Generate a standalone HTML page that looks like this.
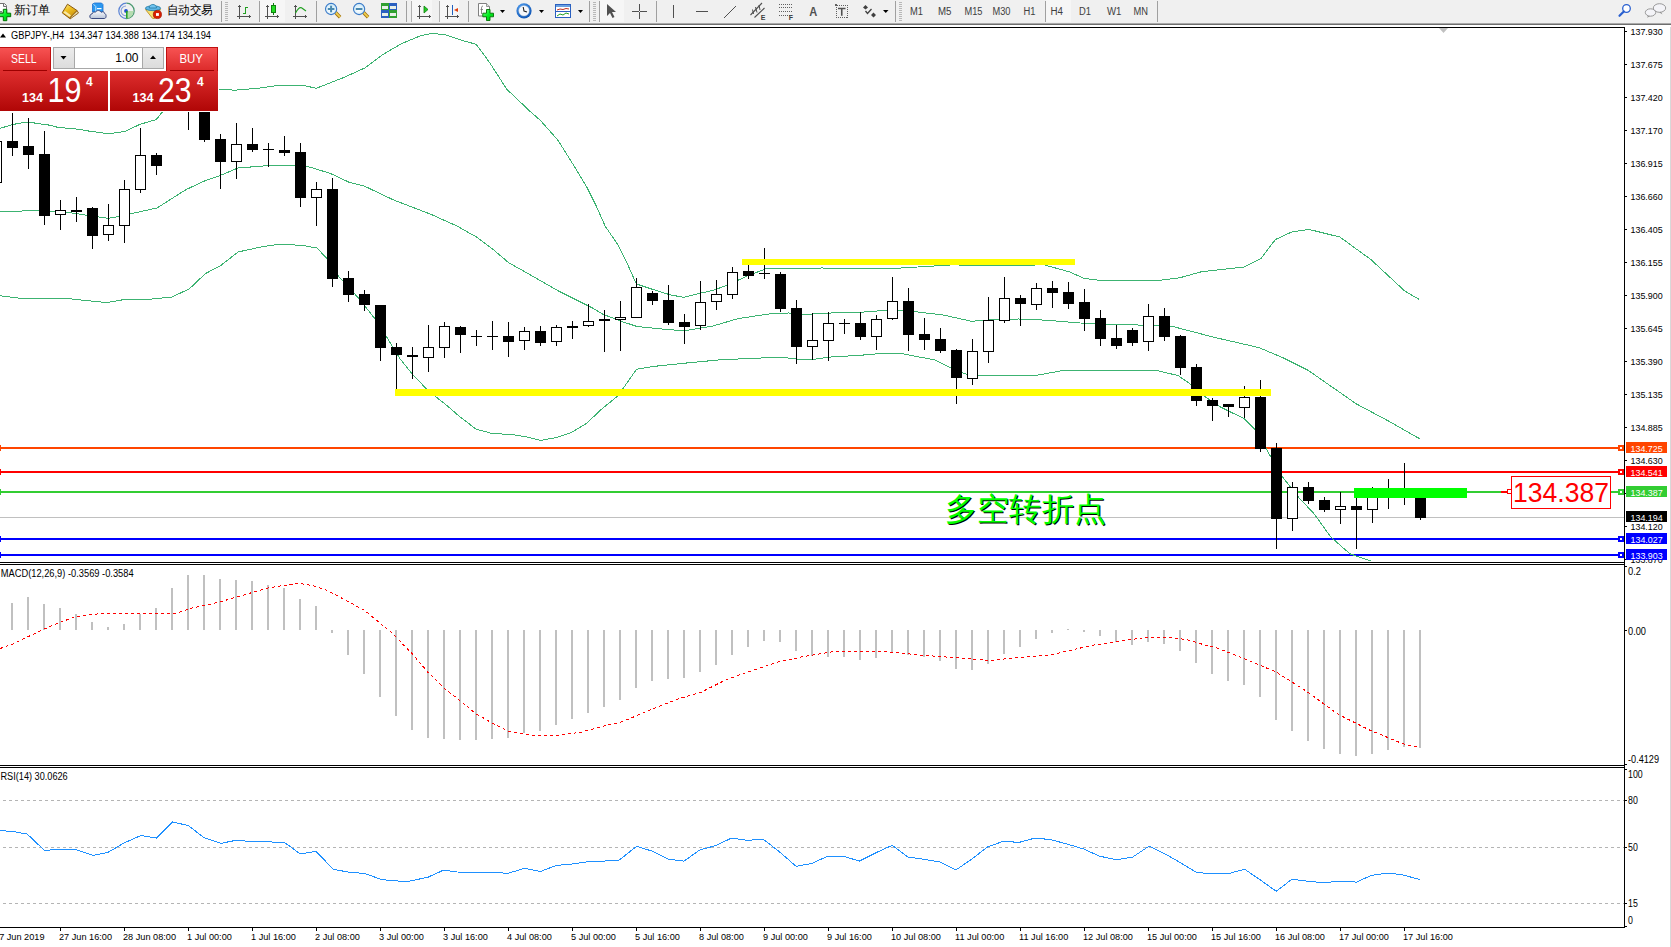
<!DOCTYPE html>
<html><head><meta charset="utf-8"><style>
html,body{margin:0;padding:0;width:1671px;height:947px;overflow:hidden;background:#fff;}
body{position:relative;font-family:"Liberation Sans", sans-serif;}
svg{position:absolute;left:0;top:0;}
text{font-family:"Liberation Sans", sans-serif;}
</style></head><body>
<svg width="1671" height="947" viewBox="0 0 1671 947">
<rect x="0" y="0" width="1671" height="947" fill="#ffffff"/>

<g shape-rendering="crispEdges">
<rect x="0" y="447" width="1624" height="2" fill="#ff4500"/>
<rect x="0" y="471" width="1624" height="2" fill="#ff0000"/>
<rect x="0" y="491" width="1624" height="2" fill="#32cd32"/>
<rect x="0" y="517" width="1624" height="1" fill="#c0c0c0"/>
<rect x="0" y="538" width="1624" height="2" fill="#0000ff"/>
<rect x="0" y="554" width="1624" height="2" fill="#0000ff"/>
</g>
<g stroke="#3cb371" stroke-width="1" fill="none" shape-rendering="crispEdges">
<polyline points="0.0,128.4 12.6,124.5 25.0,122.4 32.0,122.6 40.8,124.0 50.0,125.2 57.9,127.4 68.7,128.3 78.7,129.3 90.2,131.3 105.3,133.3 111.8,133.3 125.4,131.3 139.8,124.4 156.3,119.5 161.3,113.2 170.0,108.0 195.0,96.0 219.6,89.3 234.9,90.2 257.9,88.3 280.9,85.1 301.9,85.1 316.3,88.3 344.0,77.4 365.1,67.8 382.3,54.8 401.5,43.7 420.6,35.7 432.1,33.4 445.5,34.7 459.0,39.5 476.2,44.3 489.6,62.5 506.8,89.3 530.0,111.3 540.0,120.0 557.7,139.9 571.0,161.0 586.5,186.5 595.4,204.2 605.3,226.4 617.5,244.1 626.4,261.8 636.4,284.0 653.0,289.5 670.7,295.0 684.0,297.3 700.0,293.3 714.6,289.9 728.0,284.8 748.4,275.5 765.3,269.0 789.0,268.4 822.8,268.0 853.0,268.7 883.8,269.0 917.6,267.0 951.4,264.9 993.7,265.5 1044.4,264.9 1069.7,272.0 1084.0,278.3 1098.3,280.2 1139.0,280.2 1160.5,280.2 1179.7,277.8 1201.2,271.8 1244.3,267.0 1261.0,258.6 1275.4,239.5 1292.2,231.8 1309.0,229.4 1340.0,237.1 1371.2,259.8 1404.7,291.0 1419.0,299.3" fill="none" />
<polyline points="0.0,211.5 37.0,210.7 71.0,212.9 108.0,218.3 118.0,216.6 132.0,213.5 157.0,208.0 186.0,189.6 206.0,180.3 219.0,176.0 238.0,168.0 276.0,165.0 295.0,165.6 308.0,166.6 330.0,173.3 349.0,182.2 364.2,186.0 393.4,199.9 431.4,214.5 456.7,225.9 477.0,237.3 492.2,248.7 508.7,262.7 530.0,274.7 557.7,290.6 593.2,308.4 602.8,314.1 619.7,320.8 637.0,326.5 662.0,329.0 684.0,330.8 713.0,326.0 738.0,318.6 772.0,313.5 789.0,313.0 806.0,314.4 831.0,313.0 860.0,312.3 883.8,310.5 900.7,310.5 917.6,312.0 943.0,315.0 971.7,321.3 993.7,319.6 1019.0,319.0 1044.4,320.1 1086.6,323.5 1147.6,325.3 1174.6,327.0 1215.0,337.5 1259.0,347.6 1282.8,357.7 1307.6,370.0 1356.2,403.8 1387.9,420.7 1419.6,438.7" fill="none" />
<polyline points="0.0,295.7 20.7,298.3 68.0,298.6 88.7,300.8 106.4,302.6 122.7,299.8 147.8,299.4 171.5,297.1 189.2,289.0 205.5,273.5 220.0,266.1 238.0,252.0 263.0,246.5 282.0,244.0 304.6,245.8 317.0,248.0 326.8,258.5 339.5,277.5 358.5,298.0 377.5,322.0 400.0,358.7 412.4,374.2 426.5,389.0 435.8,396.8 446.7,405.3 459.1,416.2 476.2,429.2 491.8,433.4 512.0,434.6 524.5,436.5 540.8,440.4 555.6,437.7 571.2,432.6 586.7,423.2 602.3,408.5 617.8,396.0 636.5,369.3 653.8,366.4 687.6,362.9 721.4,359.7 755.0,358.3 780.6,357.1 797.5,359.2 814.4,359.2 831.0,357.0 860.0,355.3 875.4,354.0 900.7,353.4 934.5,359.9 951.4,368.3 968.3,375.0 1036.0,375.4 1061.3,370.8 1093.5,370.4 1156.0,370.4 1178.0,375.5 1191.5,384.8 1205.0,396.6 1220.0,406.8 1244.0,418.6 1255.8,430.4 1270.6,456.6 1282.3,476.7 1299.0,497.8 1314.0,513.7 1330.8,537.0 1349.9,553.8 1371.0,561.0" fill="none" />
</g>
<g shape-rendering="crispEdges">
<rect x="-4" y="120" width="1" height="70" fill="#000"/>
<rect x="-9" y="141" width="11" height="42" fill="#000"/>
<rect x="-8" y="142" width="9" height="40" fill="#fff"/>
<rect x="12" y="113" width="1" height="43" fill="#000"/>
<rect x="7" y="141" width="11" height="7" fill="#000"/>
<rect x="28" y="118" width="1" height="51" fill="#000"/>
<rect x="23" y="146" width="11" height="9" fill="#000"/>
<rect x="44" y="131" width="1" height="94" fill="#000"/>
<rect x="39" y="154" width="11" height="62" fill="#000"/>
<rect x="60" y="200" width="1" height="30" fill="#000"/>
<rect x="55" y="210" width="11" height="5" fill="#000"/>
<rect x="56" y="211" width="9" height="3" fill="#fff"/>
<rect x="76" y="197" width="1" height="25" fill="#000"/>
<rect x="71" y="210" width="11" height="2" fill="#000"/>
<rect x="92" y="207" width="1" height="42" fill="#000"/>
<rect x="87" y="208" width="11" height="28" fill="#000"/>
<rect x="108" y="204" width="1" height="37" fill="#000"/>
<rect x="103" y="225" width="11" height="10" fill="#000"/>
<rect x="104" y="226" width="9" height="8" fill="#fff"/>
<rect x="124" y="180" width="1" height="63" fill="#000"/>
<rect x="119" y="189" width="11" height="37" fill="#000"/>
<rect x="120" y="190" width="9" height="35" fill="#fff"/>
<rect x="140" y="128" width="1" height="65" fill="#000"/>
<rect x="135" y="155" width="11" height="35" fill="#000"/>
<rect x="136" y="156" width="9" height="33" fill="#fff"/>
<rect x="156" y="153" width="1" height="22" fill="#000"/>
<rect x="151" y="155" width="11" height="11" fill="#000"/>
<rect x="172" y="60" width="1" height="48" fill="#000"/>
<rect x="167" y="80" width="11" height="20" fill="#000"/>
<rect x="188" y="60" width="1" height="70" fill="#000"/>
<rect x="183" y="80" width="11" height="20" fill="#000"/>
<rect x="184" y="81" width="9" height="18" fill="#fff"/>
<rect x="204" y="90" width="1" height="52" fill="#000"/>
<rect x="199" y="100" width="11" height="40" fill="#000"/>
<rect x="220" y="134" width="1" height="55" fill="#000"/>
<rect x="215" y="139" width="11" height="23" fill="#000"/>
<rect x="236" y="123" width="1" height="56" fill="#000"/>
<rect x="231" y="144" width="11" height="18" fill="#000"/>
<rect x="232" y="145" width="9" height="16" fill="#fff"/>
<rect x="252" y="128" width="1" height="24" fill="#000"/>
<rect x="247" y="144" width="11" height="6" fill="#000"/>
<rect x="268" y="143" width="1" height="24" fill="#000"/>
<rect x="263" y="149" width="11" height="1" fill="#000"/>
<rect x="284" y="136" width="1" height="20" fill="#000"/>
<rect x="279" y="150" width="11" height="3" fill="#000"/>
<rect x="300" y="143" width="1" height="64" fill="#000"/>
<rect x="295" y="152" width="11" height="46" fill="#000"/>
<rect x="316" y="182" width="1" height="44" fill="#000"/>
<rect x="311" y="189" width="11" height="9" fill="#000"/>
<rect x="312" y="190" width="9" height="7" fill="#fff"/>
<rect x="332" y="178" width="1" height="109" fill="#000"/>
<rect x="327" y="189" width="11" height="90" fill="#000"/>
<rect x="348" y="271" width="1" height="31" fill="#000"/>
<rect x="343" y="278" width="11" height="17" fill="#000"/>
<rect x="364" y="290" width="1" height="21" fill="#000"/>
<rect x="359" y="294" width="11" height="11" fill="#000"/>
<rect x="380" y="305" width="1" height="56" fill="#000"/>
<rect x="375" y="305" width="11" height="43" fill="#000"/>
<rect x="396" y="343" width="1" height="46" fill="#000"/>
<rect x="391" y="347" width="11" height="8" fill="#000"/>
<rect x="412" y="347" width="1" height="32" fill="#000"/>
<rect x="407" y="355" width="11" height="2" fill="#000"/>
<rect x="428" y="325" width="1" height="47" fill="#000"/>
<rect x="423" y="347" width="11" height="11" fill="#000"/>
<rect x="424" y="348" width="9" height="9" fill="#fff"/>
<rect x="444" y="322" width="1" height="36" fill="#000"/>
<rect x="439" y="326" width="11" height="22" fill="#000"/>
<rect x="440" y="327" width="9" height="20" fill="#fff"/>
<rect x="460" y="326" width="1" height="27" fill="#000"/>
<rect x="455" y="327" width="11" height="8" fill="#000"/>
<rect x="476" y="330" width="1" height="16" fill="#000"/>
<rect x="471" y="336" width="11" height="1" fill="#000"/>
<rect x="492" y="321" width="1" height="29" fill="#000"/>
<rect x="487" y="336" width="11" height="1" fill="#000"/>
<rect x="508" y="322" width="1" height="35" fill="#000"/>
<rect x="503" y="336" width="11" height="6" fill="#000"/>
<rect x="524" y="327" width="1" height="23" fill="#000"/>
<rect x="519" y="331" width="11" height="10" fill="#000"/>
<rect x="520" y="332" width="9" height="8" fill="#fff"/>
<rect x="540" y="326" width="1" height="20" fill="#000"/>
<rect x="535" y="331" width="11" height="12" fill="#000"/>
<rect x="556" y="325" width="1" height="21" fill="#000"/>
<rect x="551" y="327" width="11" height="15" fill="#000"/>
<rect x="552" y="328" width="9" height="13" fill="#fff"/>
<rect x="572" y="321" width="1" height="18" fill="#000"/>
<rect x="567" y="326" width="11" height="2" fill="#000"/>
<rect x="588" y="304" width="1" height="23" fill="#000"/>
<rect x="583" y="321" width="11" height="5" fill="#000"/>
<rect x="584" y="322" width="9" height="3" fill="#fff"/>
<rect x="604" y="310" width="1" height="42" fill="#000"/>
<rect x="599" y="319" width="11" height="2" fill="#000"/>
<rect x="620" y="301" width="1" height="50" fill="#000"/>
<rect x="615" y="317" width="11" height="3" fill="#000"/>
<rect x="616" y="318" width="9" height="1" fill="#fff"/>
<rect x="636" y="278" width="1" height="40" fill="#000"/>
<rect x="631" y="287" width="11" height="31" fill="#000"/>
<rect x="632" y="288" width="9" height="29" fill="#fff"/>
<rect x="652" y="291" width="1" height="14" fill="#000"/>
<rect x="647" y="293" width="11" height="8" fill="#000"/>
<rect x="668" y="285" width="1" height="40" fill="#000"/>
<rect x="663" y="300" width="11" height="23" fill="#000"/>
<rect x="684" y="314" width="1" height="30" fill="#000"/>
<rect x="679" y="322" width="11" height="5" fill="#000"/>
<rect x="700" y="281" width="1" height="49" fill="#000"/>
<rect x="695" y="302" width="11" height="24" fill="#000"/>
<rect x="696" y="303" width="9" height="22" fill="#fff"/>
<rect x="716" y="280" width="1" height="30" fill="#000"/>
<rect x="711" y="294" width="11" height="8" fill="#000"/>
<rect x="712" y="295" width="9" height="6" fill="#fff"/>
<rect x="732" y="267" width="1" height="32" fill="#000"/>
<rect x="727" y="272" width="11" height="23" fill="#000"/>
<rect x="728" y="273" width="9" height="21" fill="#fff"/>
<rect x="748" y="265" width="1" height="14" fill="#000"/>
<rect x="743" y="271" width="11" height="5" fill="#000"/>
<rect x="764" y="248" width="1" height="31" fill="#000"/>
<rect x="759" y="273" width="11" height="1" fill="#000"/>
<rect x="780" y="272" width="1" height="40" fill="#000"/>
<rect x="775" y="274" width="11" height="35" fill="#000"/>
<rect x="796" y="300" width="1" height="64" fill="#000"/>
<rect x="791" y="308" width="11" height="39" fill="#000"/>
<rect x="812" y="313" width="1" height="47" fill="#000"/>
<rect x="807" y="340" width="11" height="7" fill="#000"/>
<rect x="808" y="341" width="9" height="5" fill="#fff"/>
<rect x="828" y="312" width="1" height="49" fill="#000"/>
<rect x="823" y="323" width="11" height="18" fill="#000"/>
<rect x="824" y="324" width="9" height="16" fill="#fff"/>
<rect x="844" y="319" width="1" height="15" fill="#000"/>
<rect x="839" y="323" width="11" height="1" fill="#000"/>
<rect x="860" y="312" width="1" height="28" fill="#000"/>
<rect x="855" y="323" width="11" height="14" fill="#000"/>
<rect x="876" y="315" width="1" height="35" fill="#000"/>
<rect x="871" y="319" width="11" height="18" fill="#000"/>
<rect x="872" y="320" width="9" height="16" fill="#fff"/>
<rect x="892" y="277" width="1" height="43" fill="#000"/>
<rect x="887" y="301" width="11" height="18" fill="#000"/>
<rect x="888" y="302" width="9" height="16" fill="#fff"/>
<rect x="908" y="288" width="1" height="63" fill="#000"/>
<rect x="903" y="301" width="11" height="34" fill="#000"/>
<rect x="924" y="318" width="1" height="32" fill="#000"/>
<rect x="919" y="334" width="11" height="6" fill="#000"/>
<rect x="940" y="328" width="1" height="25" fill="#000"/>
<rect x="935" y="339" width="11" height="12" fill="#000"/>
<rect x="956" y="349" width="1" height="55" fill="#000"/>
<rect x="951" y="350" width="11" height="28" fill="#000"/>
<rect x="972" y="339" width="1" height="46" fill="#000"/>
<rect x="967" y="351" width="11" height="28" fill="#000"/>
<rect x="968" y="352" width="9" height="26" fill="#fff"/>
<rect x="988" y="297" width="1" height="66" fill="#000"/>
<rect x="983" y="320" width="11" height="32" fill="#000"/>
<rect x="984" y="321" width="9" height="30" fill="#fff"/>
<rect x="1004" y="277" width="1" height="46" fill="#000"/>
<rect x="999" y="298" width="11" height="23" fill="#000"/>
<rect x="1000" y="299" width="9" height="21" fill="#fff"/>
<rect x="1020" y="295" width="1" height="31" fill="#000"/>
<rect x="1015" y="298" width="11" height="6" fill="#000"/>
<rect x="1036" y="283" width="1" height="27" fill="#000"/>
<rect x="1031" y="288" width="11" height="17" fill="#000"/>
<rect x="1032" y="289" width="9" height="15" fill="#fff"/>
<rect x="1052" y="281" width="1" height="27" fill="#000"/>
<rect x="1047" y="288" width="11" height="5" fill="#000"/>
<rect x="1068" y="282" width="1" height="27" fill="#000"/>
<rect x="1063" y="292" width="11" height="12" fill="#000"/>
<rect x="1084" y="289" width="1" height="42" fill="#000"/>
<rect x="1079" y="302" width="11" height="17" fill="#000"/>
<rect x="1100" y="310" width="1" height="36" fill="#000"/>
<rect x="1095" y="318" width="11" height="21" fill="#000"/>
<rect x="1116" y="325" width="1" height="24" fill="#000"/>
<rect x="1111" y="338" width="11" height="8" fill="#000"/>
<rect x="1132" y="328" width="1" height="18" fill="#000"/>
<rect x="1127" y="330" width="11" height="13" fill="#000"/>
<rect x="1148" y="304" width="1" height="47" fill="#000"/>
<rect x="1143" y="316" width="11" height="26" fill="#000"/>
<rect x="1144" y="317" width="9" height="24" fill="#fff"/>
<rect x="1164" y="308" width="1" height="33" fill="#000"/>
<rect x="1159" y="316" width="11" height="21" fill="#000"/>
<rect x="1180" y="335" width="1" height="40" fill="#000"/>
<rect x="1175" y="336" width="11" height="32" fill="#000"/>
<rect x="1196" y="364" width="1" height="42" fill="#000"/>
<rect x="1191" y="367" width="11" height="34" fill="#000"/>
<rect x="1212" y="398" width="1" height="23" fill="#000"/>
<rect x="1207" y="400" width="11" height="6" fill="#000"/>
<rect x="1228" y="404" width="1" height="13" fill="#000"/>
<rect x="1223" y="404" width="11" height="3" fill="#000"/>
<rect x="1244" y="386" width="1" height="32" fill="#000"/>
<rect x="1239" y="397" width="11" height="11" fill="#000"/>
<rect x="1240" y="398" width="9" height="9" fill="#fff"/>
<rect x="1260" y="380" width="1" height="72" fill="#000"/>
<rect x="1255" y="397" width="11" height="52" fill="#000"/>
<rect x="1276" y="443" width="1" height="106" fill="#000"/>
<rect x="1271" y="448" width="11" height="71" fill="#000"/>
<rect x="1292" y="482" width="1" height="49" fill="#000"/>
<rect x="1287" y="487" width="11" height="32" fill="#000"/>
<rect x="1288" y="488" width="9" height="30" fill="#fff"/>
<rect x="1308" y="482" width="1" height="22" fill="#000"/>
<rect x="1303" y="487" width="11" height="14" fill="#000"/>
<rect x="1324" y="497" width="1" height="15" fill="#000"/>
<rect x="1319" y="500" width="11" height="10" fill="#000"/>
<rect x="1340" y="492" width="1" height="32" fill="#000"/>
<rect x="1335" y="506" width="11" height="4" fill="#000"/>
<rect x="1336" y="507" width="9" height="2" fill="#fff"/>
<rect x="1356" y="490" width="1" height="59" fill="#000"/>
<rect x="1351" y="506" width="11" height="4" fill="#000"/>
<rect x="1372" y="487" width="1" height="36" fill="#000"/>
<rect x="1367" y="493" width="11" height="17" fill="#000"/>
<rect x="1368" y="494" width="9" height="15" fill="#fff"/>
<rect x="1388" y="479" width="1" height="30" fill="#000"/>
<rect x="1383" y="492" width="11" height="4" fill="#000"/>
<rect x="1384" y="493" width="9" height="2" fill="#fff"/>
<rect x="1404" y="463" width="1" height="42" fill="#000"/>
<rect x="1399" y="490" width="11" height="6" fill="#000"/>
<rect x="1400" y="491" width="9" height="4" fill="#fff"/>
<rect x="1420" y="492" width="1" height="28" fill="#000"/>
<rect x="1415" y="494" width="11" height="24" fill="#000"/>
</g>
<g shape-rendering="crispEdges">
<rect x="742" y="259" width="333" height="6" fill="#ffff00"/>
<rect x="395" y="389" width="876" height="7" fill="#ffff00"/>
<rect x="1354" y="488" width="113" height="10" fill="#00ff00"/>
</g>
<g shape-rendering="crispEdges">
<rect x="1618" y="445" width="6" height="6" fill="#ff4500"/><rect x="1620" y="447" width="2" height="2" fill="#fff"/>
<rect x="0" y="445" width="1" height="6" fill="#ff4500"/>
<rect x="1618" y="469" width="6" height="6" fill="#ff0000"/><rect x="1620" y="471" width="2" height="2" fill="#fff"/>
<rect x="0" y="469" width="1" height="6" fill="#ff0000"/>
<rect x="1618" y="489" width="6" height="6" fill="#32cd32"/><rect x="1620" y="491" width="2" height="2" fill="#fff"/>
<rect x="0" y="489" width="1" height="6" fill="#32cd32"/>
<rect x="1618" y="536" width="6" height="6" fill="#0000ff"/><rect x="1620" y="538" width="2" height="2" fill="#fff"/>
<rect x="0" y="536" width="1" height="6" fill="#0000ff"/>
<rect x="1618" y="552" width="6" height="6" fill="#0000ff"/><rect x="1620" y="554" width="2" height="2" fill="#fff"/>
<rect x="0" y="552" width="1" height="6" fill="#0000ff"/>
</g>
<g shape-rendering="crispEdges">
<rect x="1501" y="491" width="10" height="2" fill="#ff0000"/>
<rect x="1507.5" y="489.5" width="4" height="4" fill="#fff" stroke="#ff0000" stroke-width="1"/>
<rect x="1511.5" y="476.5" width="99" height="32" fill="#fff" stroke="#ff0000" stroke-width="1"/>
</g>
<text x="1513" y="502" font-size="27" fill="#ff0000" textLength="96" lengthAdjust="spacingAndGlyphs">134.387</text>
<text x="946" y="521" font-size="32" fill="#000" font-family="'Liberation Serif', serif" textLength="161" lengthAdjust="spacingAndGlyphs">多空转折点</text>
<text x="945" y="520" font-size="32" fill="#00ff00" font-family="'Liberation Serif', serif" textLength="161" lengthAdjust="spacingAndGlyphs">多空转折点</text>
<g shape-rendering="crispEdges">
<rect x="-5" y="606" width="2" height="24" fill="#c0c0c0"/>
<rect x="11" y="603" width="2" height="27" fill="#c0c0c0"/>
<rect x="27" y="597" width="2" height="33" fill="#c0c0c0"/>
<rect x="43" y="604" width="2" height="26" fill="#c0c0c0"/>
<rect x="59" y="608" width="2" height="22" fill="#c0c0c0"/>
<rect x="75" y="614" width="2" height="16" fill="#c0c0c0"/>
<rect x="91" y="622" width="2" height="8" fill="#c0c0c0"/>
<rect x="107" y="627" width="2" height="3" fill="#c0c0c0"/>
<rect x="123" y="624" width="2" height="6" fill="#c0c0c0"/>
<rect x="139" y="614" width="2" height="16" fill="#c0c0c0"/>
<rect x="155" y="608" width="2" height="22" fill="#c0c0c0"/>
<rect x="171" y="588" width="2" height="42" fill="#c0c0c0"/>
<rect x="187" y="575" width="2" height="55" fill="#c0c0c0"/>
<rect x="203" y="575" width="2" height="55" fill="#c0c0c0"/>
<rect x="219" y="579" width="2" height="51" fill="#c0c0c0"/>
<rect x="235" y="580" width="2" height="50" fill="#c0c0c0"/>
<rect x="251" y="581" width="2" height="49" fill="#c0c0c0"/>
<rect x="267" y="585" width="2" height="45" fill="#c0c0c0"/>
<rect x="283" y="588" width="2" height="42" fill="#c0c0c0"/>
<rect x="299" y="599" width="2" height="31" fill="#c0c0c0"/>
<rect x="315" y="606" width="2" height="24" fill="#c0c0c0"/>
<rect x="331" y="630" width="2" height="3" fill="#c0c0c0"/>
<rect x="347" y="630" width="2" height="25" fill="#c0c0c0"/>
<rect x="363" y="630" width="2" height="44" fill="#c0c0c0"/>
<rect x="379" y="630" width="2" height="67" fill="#c0c0c0"/>
<rect x="395" y="630" width="2" height="86" fill="#c0c0c0"/>
<rect x="411" y="630" width="2" height="100" fill="#c0c0c0"/>
<rect x="427" y="630" width="2" height="108" fill="#c0c0c0"/>
<rect x="443" y="630" width="2" height="109" fill="#c0c0c0"/>
<rect x="459" y="630" width="2" height="110" fill="#c0c0c0"/>
<rect x="475" y="630" width="2" height="110" fill="#c0c0c0"/>
<rect x="491" y="630" width="2" height="109" fill="#c0c0c0"/>
<rect x="507" y="630" width="2" height="108" fill="#c0c0c0"/>
<rect x="523" y="630" width="2" height="103" fill="#c0c0c0"/>
<rect x="539" y="630" width="2" height="101" fill="#c0c0c0"/>
<rect x="555" y="630" width="2" height="95" fill="#c0c0c0"/>
<rect x="571" y="630" width="2" height="89" fill="#c0c0c0"/>
<rect x="587" y="630" width="2" height="83" fill="#c0c0c0"/>
<rect x="603" y="630" width="2" height="77" fill="#c0c0c0"/>
<rect x="619" y="630" width="2" height="70" fill="#c0c0c0"/>
<rect x="635" y="630" width="2" height="58" fill="#c0c0c0"/>
<rect x="651" y="630" width="2" height="51" fill="#c0c0c0"/>
<rect x="667" y="630" width="2" height="49" fill="#c0c0c0"/>
<rect x="683" y="630" width="2" height="48" fill="#c0c0c0"/>
<rect x="699" y="630" width="2" height="42" fill="#c0c0c0"/>
<rect x="715" y="630" width="2" height="35" fill="#c0c0c0"/>
<rect x="731" y="630" width="2" height="25" fill="#c0c0c0"/>
<rect x="747" y="630" width="2" height="17" fill="#c0c0c0"/>
<rect x="763" y="630" width="2" height="11" fill="#c0c0c0"/>
<rect x="779" y="630" width="2" height="12" fill="#c0c0c0"/>
<rect x="795" y="630" width="2" height="21" fill="#c0c0c0"/>
<rect x="811" y="630" width="2" height="26" fill="#c0c0c0"/>
<rect x="827" y="630" width="2" height="27" fill="#c0c0c0"/>
<rect x="843" y="630" width="2" height="27" fill="#c0c0c0"/>
<rect x="859" y="630" width="2" height="30" fill="#c0c0c0"/>
<rect x="875" y="630" width="2" height="28" fill="#c0c0c0"/>
<rect x="891" y="630" width="2" height="22" fill="#c0c0c0"/>
<rect x="907" y="630" width="2" height="25" fill="#c0c0c0"/>
<rect x="923" y="630" width="2" height="27" fill="#c0c0c0"/>
<rect x="939" y="630" width="2" height="31" fill="#c0c0c0"/>
<rect x="955" y="630" width="2" height="39" fill="#c0c0c0"/>
<rect x="971" y="630" width="2" height="40" fill="#c0c0c0"/>
<rect x="987" y="630" width="2" height="34" fill="#c0c0c0"/>
<rect x="1003" y="630" width="2" height="24" fill="#c0c0c0"/>
<rect x="1019" y="630" width="2" height="17" fill="#c0c0c0"/>
<rect x="1035" y="630" width="2" height="9" fill="#c0c0c0"/>
<rect x="1051" y="630" width="2" height="3" fill="#c0c0c0"/>
<rect x="1067" y="629" width="2" height="1" fill="#c0c0c0"/>
<rect x="1083" y="630" width="2" height="2" fill="#c0c0c0"/>
<rect x="1099" y="630" width="2" height="6" fill="#c0c0c0"/>
<rect x="1115" y="630" width="2" height="12" fill="#c0c0c0"/>
<rect x="1131" y="630" width="2" height="15" fill="#c0c0c0"/>
<rect x="1147" y="630" width="2" height="12" fill="#c0c0c0"/>
<rect x="1163" y="630" width="2" height="14" fill="#c0c0c0"/>
<rect x="1179" y="630" width="2" height="21" fill="#c0c0c0"/>
<rect x="1195" y="630" width="2" height="33" fill="#c0c0c0"/>
<rect x="1211" y="630" width="2" height="44" fill="#c0c0c0"/>
<rect x="1227" y="630" width="2" height="51" fill="#c0c0c0"/>
<rect x="1243" y="630" width="2" height="55" fill="#c0c0c0"/>
<rect x="1259" y="630" width="2" height="67" fill="#c0c0c0"/>
<rect x="1275" y="630" width="2" height="90" fill="#c0c0c0"/>
<rect x="1291" y="630" width="2" height="101" fill="#c0c0c0"/>
<rect x="1307" y="630" width="2" height="111" fill="#c0c0c0"/>
<rect x="1323" y="630" width="2" height="119" fill="#c0c0c0"/>
<rect x="1339" y="630" width="2" height="124" fill="#c0c0c0"/>
<rect x="1355" y="630" width="2" height="126" fill="#c0c0c0"/>
<rect x="1371" y="630" width="2" height="124" fill="#c0c0c0"/>
<rect x="1387" y="630" width="2" height="120" fill="#c0c0c0"/>
<rect x="1403" y="630" width="2" height="117" fill="#c0c0c0"/>
<rect x="1419" y="630" width="2" height="118" fill="#c0c0c0"/>
</g>
<polyline points="0.0,648.5 12.6,644.2 44.0,629.0 60.3,622.4 75.4,616.6 100.5,613.6 176.0,613.3 191.0,608.3 218.7,602.3 248.8,593.5 269.0,587.7 299.0,583.2 314.0,586.0 326.8,590.2 364.5,610.3 392.0,633.0 412.6,654.3 427.6,671.9 444.0,688.2 460.3,700.8 475.4,713.4 490.5,722.1 508.0,731.0 525.7,734.2 540.8,736.0 560.9,735.0 581.0,732.2 601.0,726.7 621.2,722.1 651.3,709.6 676.5,699.5 701.6,692.0 726.8,679.4 751.9,670.6 777.0,662.3 802.1,656.8 832.7,651.8 880.4,651.3 925.7,655.5 970.9,658.8 988.5,660.6 1013.6,658.0 1051.3,655.0 1071.5,650.0 1094.0,645.0 1124.2,640.5 1146.9,637.4 1169.5,637.4 1187.0,639.7 1202.1,644.2 1216.9,648.0 1242.3,657.9 1276.1,672.0 1307.1,691.7 1338.1,714.3 1369.1,729.8 1402.9,743.8 1419.9,747.5" fill="none" stroke="#ff0000" stroke-width="1" stroke-dasharray="3 3" shape-rendering="crispEdges"/>
<g shape-rendering="crispEdges">
<line x1="3" y1="800.5" x2="1624" y2="800.5" stroke="#b4b4b4" stroke-width="1" stroke-dasharray="3 3"/>
<line x1="3" y1="847.5" x2="1624" y2="847.5" stroke="#b4b4b4" stroke-width="1" stroke-dasharray="3 3"/>
<line x1="3" y1="903.5" x2="1624" y2="903.5" stroke="#b4b4b4" stroke-width="1" stroke-dasharray="3 3"/>
</g>
<polyline points="0.0,830.4 14.4,831.8 27.3,834.1 44.5,850.5 54.6,849.6 76.1,849.6 93.4,855.4 107.7,852.5 123.5,843.3 140.8,835.5 156.6,838.1 172.4,822.0 188.2,825.5 204.0,837.6 221.2,843.3 235.5,840.4 250.0,841.3 284.4,842.4 300.2,853.9 316.0,851.3 333.2,869.2 347.6,872.0 364.8,873.5 380.6,879.2 390.7,880.6 407.9,881.5 428.0,877.2 443.8,870.0 456.7,872.0 500.2,872.6 507.4,873.5 524.6,868.3 540.4,871.5 556.2,865.4 572.0,864.0 586.4,862.0 603.6,861.1 619.4,860.0 636.7,846.2 652.5,851.3 668.3,859.1 684.0,861.1 699.9,849.9 715.7,845.6 731.5,838.1 747.3,840.4 763.0,839.0 780.3,852.5 796.1,866.3 811.9,863.4 827.7,856.2 843.5,856.2 859.3,861.1 876.5,852.5 892.3,845.3 908.1,857.1 922.5,859.1 940.1,862.0 955.9,870.0 971.7,859.1 987.5,847.0 1003.3,841.3 1019.1,842.4 1034.9,838.1 1050.7,839.6 1066.5,843.9 1083.7,849.0 1099.5,856.2 1116.8,859.7 1132.6,857.1 1149.0,846.2 1164.2,853.4 1180.0,862.5 1195.8,872.0 1207.2,873.5 1228.8,873.5 1244.6,869.2 1260.4,880.0 1276.2,891.3 1292.0,879.2 1307.8,881.2 1323.6,882.7 1339.4,881.2 1356.6,882.1 1371.0,875.5 1386.6,873.2 1399.9,874.3 1419.9,879.4" fill="none" stroke="#1e90ff" stroke-width="1" shape-rendering="crispEdges"/>
<g shape-rendering="crispEdges" fill="#000">
<rect x="0" y="27" width="1625" height="1"/>
<rect x="0" y="562" width="1625" height="1"/>
<rect x="0" y="564" width="1625" height="1"/>
<rect x="0" y="765" width="1625" height="1"/>
<rect x="0" y="767" width="1625" height="1"/>
<rect x="0" y="927" width="1625" height="1"/>
<rect x="1624" y="27" width="1" height="901"/>
</g>
<rect x="1625" y="28" width="45" height="919" fill="#fff"/>
<rect x="1670" y="24" width="1" height="923" fill="#d8d8d8"/>
<g shape-rendering="crispEdges">
<rect x="1625" y="31" width="2" height="1" fill="#000"/>
<rect x="1625" y="64" width="2" height="1" fill="#000"/>
<rect x="1625" y="97" width="2" height="1" fill="#000"/>
<rect x="1625" y="130" width="2" height="1" fill="#000"/>
<rect x="1625" y="163" width="2" height="1" fill="#000"/>
<rect x="1625" y="196" width="2" height="1" fill="#000"/>
<rect x="1625" y="229" width="2" height="1" fill="#000"/>
<rect x="1625" y="262" width="2" height="1" fill="#000"/>
<rect x="1625" y="295" width="2" height="1" fill="#000"/>
<rect x="1625" y="328" width="2" height="1" fill="#000"/>
<rect x="1625" y="361" width="2" height="1" fill="#000"/>
<rect x="1625" y="394" width="2" height="1" fill="#000"/>
<rect x="1625" y="427" width="2" height="1" fill="#000"/>
<rect x="1625" y="460" width="2" height="1" fill="#000"/>
<rect x="1625" y="493" width="2" height="1" fill="#000"/>
<rect x="1625" y="526" width="2" height="1" fill="#000"/>
<rect x="1625" y="559" width="2" height="1" fill="#000"/>
</g>
<text x="1630.5" y="35" font-size="9.5" fill="#000" textLength="32.20" lengthAdjust="spacingAndGlyphs" >137.930</text>
<text x="1630.5" y="68" font-size="9.5" fill="#000" textLength="32.20" lengthAdjust="spacingAndGlyphs" >137.675</text>
<text x="1630.5" y="101" font-size="9.5" fill="#000" textLength="32.20" lengthAdjust="spacingAndGlyphs" >137.420</text>
<text x="1630.5" y="134" font-size="9.5" fill="#000" textLength="32.20" lengthAdjust="spacingAndGlyphs" >137.170</text>
<text x="1630.5" y="167" font-size="9.5" fill="#000" textLength="32.20" lengthAdjust="spacingAndGlyphs" >136.915</text>
<text x="1630.5" y="200" font-size="9.5" fill="#000" textLength="32.20" lengthAdjust="spacingAndGlyphs" >136.660</text>
<text x="1630.5" y="233" font-size="9.5" fill="#000" textLength="32.20" lengthAdjust="spacingAndGlyphs" >136.405</text>
<text x="1630.5" y="266" font-size="9.5" fill="#000" textLength="32.20" lengthAdjust="spacingAndGlyphs" >136.155</text>
<text x="1630.5" y="299" font-size="9.5" fill="#000" textLength="32.20" lengthAdjust="spacingAndGlyphs" >135.900</text>
<text x="1630.5" y="332" font-size="9.5" fill="#000" textLength="32.20" lengthAdjust="spacingAndGlyphs" >135.645</text>
<text x="1630.5" y="365" font-size="9.5" fill="#000" textLength="32.20" lengthAdjust="spacingAndGlyphs" >135.390</text>
<text x="1630.5" y="398" font-size="9.5" fill="#000" textLength="32.20" lengthAdjust="spacingAndGlyphs" >135.135</text>
<text x="1630.5" y="431" font-size="9.5" fill="#000" textLength="32.20" lengthAdjust="spacingAndGlyphs" >134.885</text>
<text x="1630.5" y="464" font-size="9.5" fill="#000" textLength="32.20" lengthAdjust="spacingAndGlyphs" >134.630</text>
<text x="1630.5" y="497" font-size="9.5" fill="#000" textLength="32.20" lengthAdjust="spacingAndGlyphs" >134.375</text>
<text x="1630.5" y="530" font-size="9.5" fill="#000" textLength="32.20" lengthAdjust="spacingAndGlyphs" >134.120</text>
<text x="1630.5" y="563" font-size="9.5" fill="#000" textLength="32.20" lengthAdjust="spacingAndGlyphs" >133.870</text>
<rect x="1626" y="442" width="41" height="11" fill="#ff4500" shape-rendering="crispEdges"/>
<text x="1630.5" y="452" font-size="9.5" fill="#fff" textLength="32.20" lengthAdjust="spacingAndGlyphs" >134.725</text>
<rect x="1626" y="466" width="41" height="11" fill="#ff0000" shape-rendering="crispEdges"/>
<text x="1630.5" y="476" font-size="9.5" fill="#fff" textLength="32.20" lengthAdjust="spacingAndGlyphs" >134.541</text>
<rect x="1626" y="486" width="41" height="11" fill="#32cd32" shape-rendering="crispEdges"/>
<text x="1630.5" y="496" font-size="9.5" fill="#fff" textLength="32.20" lengthAdjust="spacingAndGlyphs" >134.387</text>
<rect x="1626" y="511" width="41" height="11" fill="#000000" shape-rendering="crispEdges"/>
<text x="1630.5" y="521" font-size="9.5" fill="#fff" textLength="32.20" lengthAdjust="spacingAndGlyphs" >134.194</text>
<rect x="1626" y="533" width="41" height="11" fill="#0000ff" shape-rendering="crispEdges"/>
<text x="1630.5" y="543" font-size="9.5" fill="#fff" textLength="32.20" lengthAdjust="spacingAndGlyphs" >134.027</text>
<rect x="1626" y="549" width="41" height="11" fill="#0000ff" shape-rendering="crispEdges"/>
<text x="1630.5" y="559" font-size="9.5" fill="#fff" textLength="32.20" lengthAdjust="spacingAndGlyphs" >133.903</text>
<g shape-rendering="crispEdges"><rect x="1625" y="566" width="2" height="1" fill="#000"/><rect x="1625" y="630" width="2" height="1" fill="#000"/><rect x="1625" y="764" width="2" height="1" fill="#000"/></g>
<text x="1628" y="575" font-size="10" fill="#000" textLength="13.00" lengthAdjust="spacingAndGlyphs" >0.2</text>
<text x="1628" y="635" font-size="10" fill="#000" textLength="18.00" lengthAdjust="spacingAndGlyphs" >0.00</text>
<text x="1628" y="763" font-size="10" fill="#000" textLength="31.00" lengthAdjust="spacingAndGlyphs" >-0.4129</text>
<g shape-rendering="crispEdges">
<rect x="1625" y="769" width="2" height="1" fill="#000"/>
<rect x="1625" y="800" width="2" height="1" fill="#000"/>
<rect x="1625" y="847" width="2" height="1" fill="#000"/>
<rect x="1625" y="903" width="2" height="1" fill="#000"/>
<rect x="1625" y="926" width="2" height="1" fill="#000"/>
</g>
<text x="1628" y="778" font-size="10" fill="#000" textLength="14.68" lengthAdjust="spacingAndGlyphs" >100</text>
<text x="1628" y="804" font-size="10" fill="#000" textLength="9.79" lengthAdjust="spacingAndGlyphs" >80</text>
<text x="1628" y="851" font-size="10" fill="#000" textLength="9.79" lengthAdjust="spacingAndGlyphs" >50</text>
<text x="1628" y="907" font-size="10" fill="#000" textLength="9.79" lengthAdjust="spacingAndGlyphs" >15</text>
<text x="1628" y="924" font-size="10" fill="#000" textLength="4.89" lengthAdjust="spacingAndGlyphs" >0</text>
<g shape-rendering="crispEdges">
<rect x="60" y="928" width="1" height="3" fill="#000"/>
<rect x="124" y="928" width="1" height="3" fill="#000"/>
<rect x="188" y="928" width="1" height="3" fill="#000"/>
<rect x="252" y="928" width="1" height="3" fill="#000"/>
<rect x="316" y="928" width="1" height="3" fill="#000"/>
<rect x="380" y="928" width="1" height="3" fill="#000"/>
<rect x="444" y="928" width="1" height="3" fill="#000"/>
<rect x="508" y="928" width="1" height="3" fill="#000"/>
<rect x="572" y="928" width="1" height="3" fill="#000"/>
<rect x="636" y="928" width="1" height="3" fill="#000"/>
<rect x="700" y="928" width="1" height="3" fill="#000"/>
<rect x="764" y="928" width="1" height="3" fill="#000"/>
<rect x="828" y="928" width="1" height="3" fill="#000"/>
<rect x="892" y="928" width="1" height="3" fill="#000"/>
<rect x="956" y="928" width="1" height="3" fill="#000"/>
<rect x="1020" y="928" width="1" height="3" fill="#000"/>
<rect x="1084" y="928" width="1" height="3" fill="#000"/>
<rect x="1148" y="928" width="1" height="3" fill="#000"/>
<rect x="1212" y="928" width="1" height="3" fill="#000"/>
<rect x="1276" y="928" width="1" height="3" fill="#000"/>
<rect x="1340" y="928" width="1" height="3" fill="#000"/>
<rect x="1404" y="928" width="1" height="3" fill="#000"/>
</g>
<text x="-5.975118750000007" y="940" font-size="9.5" fill="#000" textLength="50.48" lengthAdjust="spacingAndGlyphs" >27 Jun 2019</text>
<text x="59" y="940" font-size="9.5" fill="#000" textLength="53.02" lengthAdjust="spacingAndGlyphs" >27 Jun 16:00</text>
<text x="123" y="940" font-size="9.5" fill="#000" textLength="53.02" lengthAdjust="spacingAndGlyphs" >28 Jun 08:00</text>
<text x="187" y="940" font-size="9.5" fill="#000" textLength="44.86" lengthAdjust="spacingAndGlyphs" >1 Jul 00:00</text>
<text x="251" y="940" font-size="9.5" fill="#000" textLength="44.86" lengthAdjust="spacingAndGlyphs" >1 Jul 16:00</text>
<text x="315" y="940" font-size="9.5" fill="#000" textLength="44.86" lengthAdjust="spacingAndGlyphs" >2 Jul 08:00</text>
<text x="379" y="940" font-size="9.5" fill="#000" textLength="44.86" lengthAdjust="spacingAndGlyphs" >3 Jul 00:00</text>
<text x="443" y="940" font-size="9.5" fill="#000" textLength="44.86" lengthAdjust="spacingAndGlyphs" >3 Jul 16:00</text>
<text x="507" y="940" font-size="9.5" fill="#000" textLength="44.86" lengthAdjust="spacingAndGlyphs" >4 Jul 08:00</text>
<text x="571" y="940" font-size="9.5" fill="#000" textLength="44.86" lengthAdjust="spacingAndGlyphs" >5 Jul 00:00</text>
<text x="635" y="940" font-size="9.5" fill="#000" textLength="44.86" lengthAdjust="spacingAndGlyphs" >5 Jul 16:00</text>
<text x="699" y="940" font-size="9.5" fill="#000" textLength="44.86" lengthAdjust="spacingAndGlyphs" >8 Jul 08:00</text>
<text x="763" y="940" font-size="9.5" fill="#000" textLength="44.86" lengthAdjust="spacingAndGlyphs" >9 Jul 00:00</text>
<text x="827" y="940" font-size="9.5" fill="#000" textLength="44.86" lengthAdjust="spacingAndGlyphs" >9 Jul 16:00</text>
<text x="891" y="940" font-size="9.5" fill="#000" textLength="49.96" lengthAdjust="spacingAndGlyphs" >10 Jul 08:00</text>
<text x="955" y="940" font-size="9.5" fill="#000" textLength="49.28" lengthAdjust="spacingAndGlyphs" >11 Jul 00:00</text>
<text x="1019" y="940" font-size="9.5" fill="#000" textLength="49.28" lengthAdjust="spacingAndGlyphs" >11 Jul 16:00</text>
<text x="1083" y="940" font-size="9.5" fill="#000" textLength="49.96" lengthAdjust="spacingAndGlyphs" >12 Jul 08:00</text>
<text x="1147" y="940" font-size="9.5" fill="#000" textLength="49.96" lengthAdjust="spacingAndGlyphs" >15 Jul 00:00</text>
<text x="1211" y="940" font-size="9.5" fill="#000" textLength="49.96" lengthAdjust="spacingAndGlyphs" >15 Jul 16:00</text>
<text x="1275" y="940" font-size="9.5" fill="#000" textLength="49.96" lengthAdjust="spacingAndGlyphs" >16 Jul 08:00</text>
<text x="1339" y="940" font-size="9.5" fill="#000" textLength="49.96" lengthAdjust="spacingAndGlyphs" >17 Jul 00:00</text>
<text x="1403" y="940" font-size="9.5" fill="#000" textLength="49.96" lengthAdjust="spacingAndGlyphs" >17 Jul 16:00</text>
<text x="0.8" y="577" font-size="10" fill="#000" textLength="132.80" lengthAdjust="spacingAndGlyphs" >MACD(12,26,9) -0.3569 -0.3584</text>
<text x="0.5" y="780" font-size="10" fill="#000" textLength="67.20" lengthAdjust="spacingAndGlyphs" >RSI(14) 30.0626</text>
<polygon points="1439,28 1448,28 1443.5,33" fill="#c0c0c0"/>
<polygon points="0,37.5 6,37.5 3,33.5" fill="#000"/>
<text x="11" y="39" font-size="10" fill="#000" textLength="200" lengthAdjust="spacingAndGlyphs">GBPJPY-,H4&#160; 134.347 134.388 134.174 134.194</text>
<defs>
<linearGradient id="gTop" x1="0" y1="0" x2="0" y2="1"><stop offset="0" stop-color="#f85454"/><stop offset="1" stop-color="#dc2a2a"/></linearGradient>
<linearGradient id="gBot" x1="0" y1="0" x2="0" y2="1"><stop offset="0" stop-color="#de2e2e"/><stop offset="1" stop-color="#b00606"/></linearGradient>
<linearGradient id="gBtn" x1="0" y1="0" x2="0" y2="1"><stop offset="0" stop-color="#ececec"/><stop offset="1" stop-color="#dcdcdc"/></linearGradient>
</defs>
<g shape-rendering="crispEdges">
<rect x="0" y="46" width="219" height="66" fill="#fff"/>
<rect x="0" y="47" width="51" height="24" fill="url(#gTop)"/>
<rect x="3" y="70" width="44" height="1" fill="#9c0000"/>
<rect x="0" y="47" width="51" height="1" fill="#c01010"/><rect x="50" y="47" width="1" height="24" fill="#c01010"/><rect x="3" y="71" width="44" height="1" fill="#e85050"/>
<rect x="166" y="47" width="52" height="24" fill="url(#gTop)"/>
<rect x="170" y="70" width="44" height="1" fill="#9c0000"/>
<rect x="166" y="47" width="52" height="1" fill="#c01010"/><rect x="166" y="47" width="1" height="24" fill="#c01010"/><rect x="217" y="47" width="1" height="64" fill="#c01010"/>
<rect x="0" y="71" width="108" height="40" fill="url(#gBot)"/>
<rect x="110" y="71" width="108" height="40" fill="url(#gBot)"/>
<rect x="53" y="47" width="111" height="22" fill="#a8a8a8"/>
<rect x="54" y="48" width="109" height="20" fill="#fff"/>
<rect x="54" y="48" width="20" height="20" fill="url(#gBtn)"/>
<rect x="74" y="48" width="1" height="20" fill="#a8a8a8"/>
<rect x="143" y="48" width="20" height="20" fill="url(#gBtn)"/>
<rect x="142" y="48" width="1" height="20" fill="#a8a8a8"/>
</g>
<polygon points="60.5,56 66.5,56 63.5,59.5" fill="#000"/>
<polygon points="150,59 156,59 153,55.5" fill="#000"/>
<text x="138.5" y="62" font-size="12" fill="#000" text-anchor="end">1.00</text>
<text x="11" y="63" font-size="12" fill="#fff" textLength="25.5" lengthAdjust="spacingAndGlyphs">SELL</text>
<text x="179.5" y="63" font-size="12" fill="#fff" textLength="23.5" lengthAdjust="spacingAndGlyphs">BUY</text>
<text x="22" y="102" font-size="13" font-weight="bold" fill="#fff" textLength="21" lengthAdjust="spacingAndGlyphs">134</text>
<text x="47.5" y="102" font-size="34.5" fill="#fff" textLength="34" lengthAdjust="spacingAndGlyphs">19</text>
<text x="86" y="86" font-size="12" font-weight="bold" fill="#fff">4</text>
<text x="132.5" y="102" font-size="13" font-weight="bold" fill="#fff" textLength="21" lengthAdjust="spacingAndGlyphs">134</text>
<text x="158" y="102" font-size="34.5" fill="#fff" textLength="33.5" lengthAdjust="spacingAndGlyphs">23</text>
<text x="197" y="86" font-size="12" font-weight="bold" fill="#fff">4</text>
<g shape-rendering="crispEdges">
<rect x="0" y="0" width="1671" height="23" fill="#f0f0f0"/>
<rect x="0" y="23" width="1671" height="1" fill="#a9a9a9"/>
<rect x="0" y="24" width="1671" height="1" fill="#6e6e6e"/>
<rect x="0" y="25" width="1671" height="2" fill="#ffffff"/>
<rect x="221" y="1" width="1" height="21" fill="#a0a0a0"/>
<rect x="259" y="1" width="1" height="21" fill="#a0a0a0"/>
<rect x="316" y="1" width="1" height="21" fill="#a0a0a0"/>
<rect x="406" y="1" width="1" height="21" fill="#a0a0a0"/>
<rect x="468" y="1" width="1" height="21" fill="#a0a0a0"/>
<rect x="589" y="1" width="1" height="21" fill="#a0a0a0"/>
<rect x="599" y="1" width="1" height="21" fill="#a0a0a0"/>
<rect x="656" y="1" width="1" height="21" fill="#a0a0a0"/>
<rect x="895" y="1" width="1" height="21" fill="#a0a0a0"/>
<rect x="1045" y="1" width="1" height="21" fill="#a0a0a0"/>
<rect x="1157" y="1" width="1" height="21" fill="#a0a0a0"/>
<rect x="225" y="2" width="3" height="1" fill="#b8b8b8"/>
<rect x="225" y="4" width="3" height="1" fill="#b8b8b8"/>
<rect x="225" y="6" width="3" height="1" fill="#b8b8b8"/>
<rect x="225" y="8" width="3" height="1" fill="#b8b8b8"/>
<rect x="225" y="10" width="3" height="1" fill="#b8b8b8"/>
<rect x="225" y="12" width="3" height="1" fill="#b8b8b8"/>
<rect x="225" y="14" width="3" height="1" fill="#b8b8b8"/>
<rect x="225" y="16" width="3" height="1" fill="#b8b8b8"/>
<rect x="225" y="18" width="3" height="1" fill="#b8b8b8"/>
<rect x="225" y="20" width="3" height="1" fill="#b8b8b8"/>
<rect x="593" y="2" width="3" height="1" fill="#b8b8b8"/>
<rect x="593" y="4" width="3" height="1" fill="#b8b8b8"/>
<rect x="593" y="6" width="3" height="1" fill="#b8b8b8"/>
<rect x="593" y="8" width="3" height="1" fill="#b8b8b8"/>
<rect x="593" y="10" width="3" height="1" fill="#b8b8b8"/>
<rect x="593" y="12" width="3" height="1" fill="#b8b8b8"/>
<rect x="593" y="14" width="3" height="1" fill="#b8b8b8"/>
<rect x="593" y="16" width="3" height="1" fill="#b8b8b8"/>
<rect x="593" y="18" width="3" height="1" fill="#b8b8b8"/>
<rect x="593" y="20" width="3" height="1" fill="#b8b8b8"/>
<rect x="899" y="2" width="3" height="1" fill="#b8b8b8"/>
<rect x="899" y="4" width="3" height="1" fill="#b8b8b8"/>
<rect x="899" y="6" width="3" height="1" fill="#b8b8b8"/>
<rect x="899" y="8" width="3" height="1" fill="#b8b8b8"/>
<rect x="899" y="10" width="3" height="1" fill="#b8b8b8"/>
<rect x="899" y="12" width="3" height="1" fill="#b8b8b8"/>
<rect x="899" y="14" width="3" height="1" fill="#b8b8b8"/>
<rect x="899" y="16" width="3" height="1" fill="#b8b8b8"/>
<rect x="899" y="18" width="3" height="1" fill="#b8b8b8"/>
<rect x="899" y="20" width="3" height="1" fill="#b8b8b8"/>
<rect x="260" y="0" width="25" height="22" fill="#f6f6f6"/>
<rect x="411" y="0" width="21" height="22" fill="#f6f6f6"/><rect x="411" y="1" width="1" height="21" fill="#b0b0b0"/>
<rect x="439" y="0" width="20" height="22" fill="#f6f6f6"/><rect x="439" y="1" width="1" height="21" fill="#b0b0b0"/>
<rect x="600" y="0" width="24" height="22" fill="#f6f6f6"/>
<rect x="1046" y="0" width="25" height="22" fill="#f6f6f6"/>
</g>
<g>
<path d="M-1,3.5 H4.5 L6.5,5.5 V13 H-1 Z" fill="#fff" stroke="#707070" stroke-width="1"/>
<path d="M3.5,3.5 V6.5 H6.5" fill="#e8e8e8" stroke="#707070" stroke-width="1"/>
<rect x="0" y="11" width="2" height="1" fill="#808080"/>
<defs><linearGradient id="gPlus" x1="0" y1="0" x2="1" y2="1"><stop offset="0" stop-color="#80ff90"/><stop offset="0.5" stop-color="#00f020"/><stop offset="1" stop-color="#00c010"/></linearGradient></defs>
<path d="M3.3,9.3 H6.8 V13.2 H10.7 V16.7 H6.8 V20.7 H3.3 V16.7 H-1 V13.2 H3.3 Z" fill="url(#gPlus)" stroke="#007000" stroke-width="1"/>
</g>
<text x="13.8" y="13.6" font-size="11.5" fill="#000" textLength="36" lengthAdjust="spacingAndGlyphs">新订单</text>
<g>
<defs><linearGradient id="gBook" x1="0" y1="0" x2="0.6" y2="1"><stop offset="0" stop-color="#fff3a0"/><stop offset="0.45" stop-color="#f0c020"/><stop offset="1" stop-color="#c89010"/></linearGradient></defs>
<path d="M70,19 L78.5,13 L77,10.5 L69.5,17 Z" fill="#e8d8a0" stroke="#8a5a10" stroke-width="0.9"/>
<path d="M67.5,4.2 L77,10.5 L69.5,18.3 L62.2,12.8 Z" fill="url(#gBook)" stroke="#8a5a10" stroke-width="1"/>
<path d="M63.5,12.6 L69.5,17 L71,15.2 L65,11 Z" fill="#f8e8a8"/>
</g>
<g>
<path d="M92.5,4 L94.5,3 H101.5 L103,4.5 V12 H92.5 Z" fill="#2a98f0" stroke="#1a70d0" stroke-width="0.8"/>
<path d="M93.5,4.2 L95.8,6.5 V11.5" fill="none" stroke="#d0ecff" stroke-width="0.9"/>
<rect x="97" y="8" width="4.5" height="1.2" fill="#fff"/>
<defs><linearGradient id="gCloud" x1="0" y1="0" x2="0" y2="1"><stop offset="0" stop-color="#ffffff"/><stop offset="1" stop-color="#b8c4d8"/></linearGradient></defs>
<path d="M91.5,18.5 C89.2,18.5 89.2,14 92,14 C92.3,12.2 94,11.8 95.5,12.2 C96.5,10 100,10 101.2,12.3 C102.3,11.3 104.3,11.5 104.6,13.5 C106.7,14 106.5,18.5 104.5,18.5 Z" fill="url(#gCloud)" stroke="#3a4a80" stroke-width="1"/>
</g>
<g fill="none">
<path d="M126.5,18.6 A7.7,7.7 0 0 1 126.5,3.2" stroke="#4070d0" stroke-width="1.2" opacity="0.85"/>
<path d="M126.5,3.2 A7.7,7.7 0 0 1 126.5,18.6" stroke="#4a9a70" stroke-width="1.2"/>
<path d="M126,15.8 A4.9,4.9 0 0 1 126,6" stroke="#5a80d0" stroke-width="1.1" opacity="0.7"/>
<path d="M126.5,11 L126.5,18.6 A7.7,7.7 0 0 0 133.5,11 Z" fill="#a8d8a0" stroke="none" opacity="0.8"/>
<circle cx="126" cy="10.9" r="1.9" fill="#2050d0"/>
<path d="M126.8,11 V18.5" stroke="#20a020" stroke-width="1.5"/>
</g>
<g>
<path d="M145.5,9.5 L160.5,9.5 L154.5,18.5 L152.5,18.3 Z" fill="#f6e070" stroke="#c09020" stroke-width="0.9"/>
<ellipse cx="153" cy="8.2" rx="7.6" ry="2.4" fill="#60b8e8" stroke="#2a80a8" stroke-width="0.9"/>
<path d="M149.2,8 C149.2,3.3 156.5,3.3 156.5,8 Z" fill="#70c4f0" stroke="#2a80a8" stroke-width="0.9"/>
<circle cx="157.4" cy="14.5" r="4.1" fill="#d82000" stroke="#a01000" stroke-width="0.7"/>
<rect x="156" y="13.1" width="2.9" height="2.8" fill="#fff"/>
</g>
<text x="166.5" y="13.6" font-size="11.5" fill="#000" textLength="46.5" lengthAdjust="spacingAndGlyphs">自动交易</text>
<g shape-rendering="crispEdges">
<g shape-rendering="crispEdges" fill="#505050"><rect x="239" y="5" width="1" height="14"/><rect x="237" y="16" width="14" height="1"/><rect x="238" y="6" width="3" height="1"/><rect x="249" y="15" width="1" height="3"/></g>
<path d="M243,13.5 H245.5 V7.5 H247.5" fill="none" stroke="#20a020" stroke-width="1.4"/>
<g shape-rendering="crispEdges" fill="#505050"><rect x="267" y="5" width="1" height="14"/><rect x="265" y="16" width="14" height="1"/><rect x="266" y="6" width="3" height="1"/><rect x="277" y="15" width="1" height="3"/></g>
<rect x="273" y="3" width="1" height="12" fill="#108010"/><rect x="271.5" y="5.5" width="4" height="7" fill="#22dd22" stroke="#108010" stroke-width="1"/>
<g shape-rendering="crispEdges" fill="#505050"><rect x="295" y="5" width="1" height="14"/><rect x="293" y="16" width="14" height="1"/><rect x="294" y="6" width="3" height="1"/><rect x="305" y="15" width="1" height="3"/></g>
</g>
<path d="M295.5,13 Q299,6.5 301.5,7.8 L306,11" fill="none" stroke="#20a020" stroke-width="1.2"/>
<defs><radialGradient id="gGlass" cx="0.45" cy="0.6" r="0.6"><stop offset="0" stop-color="#ffffff"/><stop offset="1" stop-color="#c8e8f8"/></radialGradient></defs>
<path d="M335.3,12.2 L340.1,17.2" stroke="#a07010" stroke-width="3.4" stroke-linecap="butt"/><path d="M335.3,12.2 L340.1,17.2" stroke="#f0d050" stroke-width="1.8"/>
<circle cx="331.1" cy="9" r="5.6" fill="url(#gGlass)" stroke="#3a7ac8" stroke-width="1.1"/>
<rect x="327.8" y="8" width="6.6" height="2" fill="#4a8ab0"/>
<rect x="330.1" y="5.7" width="2" height="6.6" fill="#4a8ab0"/>
<path d="M363.3,12.2 L368.1,17.2" stroke="#a07010" stroke-width="3.4" stroke-linecap="butt"/><path d="M363.3,12.2 L368.1,17.2" stroke="#f0d050" stroke-width="1.8"/>
<circle cx="359.1" cy="9" r="5.6" fill="url(#gGlass)" stroke="#3a7ac8" stroke-width="1.1"/>
<rect x="355.8" y="8" width="6.6" height="2" fill="#4a8ab0"/>
<g shape-rendering="crispEdges">
<rect x="381" y="3" width="8" height="7" fill="#30a030"/><rect x="389" y="3" width="8" height="7" fill="#2a60c0"/>
<rect x="381" y="10" width="8" height="8" fill="#2a60c0"/><rect x="389" y="10" width="8" height="8" fill="#30a030"/>
<rect x="382" y="6" width="6" height="3" fill="#e8f0e8"/>
<rect x="390" y="6" width="6" height="3" fill="#e8f0e8"/>
<rect x="382" y="13" width="6" height="3" fill="#e8f0e8"/>
<rect x="390" y="13" width="6" height="3" fill="#e8f0e8"/>
</g>
<g shape-rendering="crispEdges">
<g shape-rendering="crispEdges" fill="#505050"><rect x="419" y="5" width="1" height="14"/><rect x="417" y="16" width="14" height="1"/><rect x="418" y="6" width="3" height="1"/><rect x="429" y="15" width="1" height="3"/></g>
<g shape-rendering="crispEdges" fill="#505050"><rect x="447" y="5" width="1" height="14"/><rect x="445" y="16" width="14" height="1"/><rect x="446" y="6" width="3" height="1"/><rect x="457" y="15" width="1" height="3"/></g>
</g>
<path d="M424,6 L428,9.5 L424,13 Z" fill="#22cc22" stroke="#108010" stroke-width="0.8"/>
<rect x="452" y="5" width="1" height="10" fill="#2060c0"/><path d="M454,10 L458,8 V12 Z" fill="#e04010"/>
<g>
<path d="M478.5,3.5 H486.5 L489.5,6.5 V16 H478.5 Z" fill="#fff" stroke="#808080" stroke-width="1"/>
<path d="M486.5,3.5 V6.5 H489.5" fill="#e0e0e0" stroke="#808080" stroke-width="0.8"/>
<path d="M483,6 C481.5,6 481.5,7.5 481.5,9 V14 M480.5,9.5 H483" fill="none" stroke="#707070" stroke-width="0.8"/>
<path d="M486.5,9.5 H490 V13.2 H493.5 V16.8 H490 V20.5 H486.5 V16.8 H482.8 V13.2 H486.5 Z" fill="url(#gPlus)" stroke="#007000" stroke-width="0.9"/>
</g>
<path d="M500,10 L505,10 L502.5,13 Z" fill="#000"/>
<path d="M539,10 L544,10 L541.5,13 Z" fill="#000"/>
<path d="M578,10 L583,10 L580.5,13 Z" fill="#000"/>
<defs><radialGradient id="gClk" cx="0.4" cy="0.35" r="0.7"><stop offset="0" stop-color="#60b0ff"/><stop offset="1" stop-color="#0a50b0"/></radialGradient></defs><circle cx="524" cy="10.8" r="7.6" fill="url(#gClk)"/><circle cx="524" cy="10.8" r="5.3" fill="#f6f8fc" stroke="#9ab" stroke-width="0.4"/><path d="M523.2,7 L524,11 L527,12" fill="none" stroke="#222" stroke-width="1.1"/>
<g shape-rendering="crispEdges"><rect x="555.5" y="4.5" width="15" height="13" fill="#fff" stroke="#2a60c0" stroke-width="1"/><rect x="556" y="5" width="14" height="2" fill="#6aa0e0"/><rect x="556" y="11" width="14" height="1" fill="#2a60c0"/></g>
<path d="M557,10 L560,9 L563,9.5 L566,8.5 L569,9" fill="none" stroke="#c03020" stroke-width="1"/><path d="M557,16 L560,14 L563,15 L566,13 L569,14" fill="none" stroke="#20a020" stroke-width="1"/>
<path d="M607,4 L607,16 L610,13 L612.5,18 L614.5,17 L612,12 L616,12 Z" fill="#505050"/>
<g shape-rendering="crispEdges" fill="#505050"><rect x="632" y="11" width="15" height="1"/><rect x="639" y="4" width="1" height="15"/><rect x="639" y="11" width="1" height="1" fill="#f0f0f0"/></g>
<g shape-rendering="crispEdges" fill="#505050"><rect x="673" y="5" width="1" height="13"/><rect x="696" y="11" width="12" height="1"/></g>
<path d="M724,18 L736,6" stroke="#505050" stroke-width="1"/>
<path d="M750.5,15 L762,3 M754.5,17.5 L764.5,8" stroke="#505050" stroke-width="1.1" fill="none"/><path d="M752.5,9.5 L753.5,14 M755.5,7 L757,12.5 M759,5 L760,10" stroke="#505050" stroke-width="1" fill="none"/>
<text x="760.8" y="19.7" font-size="7" font-weight="bold" fill="#404040">E</text>
<g fill="#606060" shape-rendering="crispEdges">
<rect x="779" y="4" width="1" height="1"/>
<rect x="781" y="4" width="1" height="1"/>
<rect x="783" y="4" width="1" height="1"/>
<rect x="785" y="4" width="1" height="1"/>
<rect x="787" y="4" width="1" height="1"/>
<rect x="789" y="4" width="1" height="1"/>
<rect x="791" y="4" width="1" height="1"/>
<rect x="779" y="7" width="1" height="1"/>
<rect x="781" y="7" width="1" height="1"/>
<rect x="783" y="7" width="1" height="1"/>
<rect x="785" y="7" width="1" height="1"/>
<rect x="787" y="7" width="1" height="1"/>
<rect x="789" y="7" width="1" height="1"/>
<rect x="791" y="7" width="1" height="1"/>
<rect x="779" y="11" width="1" height="1"/>
<rect x="781" y="11" width="1" height="1"/>
<rect x="783" y="11" width="1" height="1"/>
<rect x="785" y="11" width="1" height="1"/>
<rect x="787" y="11" width="1" height="1"/>
<rect x="789" y="11" width="1" height="1"/>
<rect x="791" y="11" width="1" height="1"/>
<rect x="779" y="15" width="1" height="1"/>
<rect x="781" y="15" width="1" height="1"/>
<rect x="783" y="15" width="1" height="1"/>
<rect x="785" y="15" width="1" height="1"/>
<rect x="787" y="15" width="1" height="1"/>
<rect x="789" y="15" width="1" height="1"/>
<rect x="791" y="15" width="1" height="1"/>
</g><text x="788.8" y="19.7" font-size="7" font-weight="bold" fill="#404040">F</text>
<text x="809.3" y="16.2" font-size="13" font-weight="bold" fill="#505050" textLength="8" lengthAdjust="spacingAndGlyphs">A</text>
<rect x="836.5" y="5.5" width="11" height="12" fill="none" stroke="#606060" stroke-width="1" stroke-dasharray="1 1" shape-rendering="crispEdges"/><rect x="835" y="4" width="2" height="2" fill="#606060"/>
<path d="M838,8.5 H845.5 M841.75,8.5 V15.8" stroke="#505050" stroke-width="1.6" fill="none"/>
<path d="M863,7.5 L865.5,5 L868,7.5 L865.5,9.5 Z M871,15 L873.5,12.5 L876,15 L873.5,17.5 Z" fill="#404040"/><path d="M865.5,11 L867.5,13.5 L871.5,9" fill="none" stroke="#404040" stroke-width="1.3"/>
<path d="M883,10 L888.5,10 L885.75,13 Z" fill="#000"/>
<text x="910" y="15" font-size="10" fill="#404040" textLength="13" lengthAdjust="spacingAndGlyphs">M1</text>
<text x="938" y="15" font-size="10" fill="#404040" textLength="13.5" lengthAdjust="spacingAndGlyphs">M5</text>
<text x="964.5" y="15" font-size="10" fill="#404040" textLength="18" lengthAdjust="spacingAndGlyphs">M15</text>
<text x="992.5" y="15" font-size="10" fill="#404040" textLength="18" lengthAdjust="spacingAndGlyphs">M30</text>
<text x="1023.5" y="15" font-size="10" fill="#404040" textLength="12" lengthAdjust="spacingAndGlyphs">H1</text>
<text x="1050.5" y="15" font-size="10" fill="#404040" textLength="12.5" lengthAdjust="spacingAndGlyphs">H4</text>
<text x="1079" y="15" font-size="10" fill="#404040" textLength="12" lengthAdjust="spacingAndGlyphs">D1</text>
<text x="1107" y="15" font-size="10" fill="#404040" textLength="14.5" lengthAdjust="spacingAndGlyphs">W1</text>
<text x="1133.5" y="15" font-size="10" fill="#404040" textLength="14.5" lengthAdjust="spacingAndGlyphs">MN</text>
<circle cx="1626.5" cy="8.5" r="3.8" fill="#fff" stroke="#2a60d0" stroke-width="1.3"/><path d="M1623.8,11.5 L1619.5,15.8" stroke="#2a60d0" stroke-width="2.2" stroke-linecap="round"/>
<ellipse cx="1659.5" cy="8" rx="6.2" ry="4.3" fill="#f4f4f8" stroke="#909090" stroke-width="0.9"/><path d="M1661,12 L1662.5,14.5 L1659,12.3" fill="#909090"/>
<ellipse cx="1650.5" cy="12.5" rx="5.2" ry="3.7" fill="#f4f4f8" stroke="#909090" stroke-width="0.9"/><path d="M1648,15.8 L1647,17.8 L1650,16.2" fill="#909090"/>
</svg></body></html>
